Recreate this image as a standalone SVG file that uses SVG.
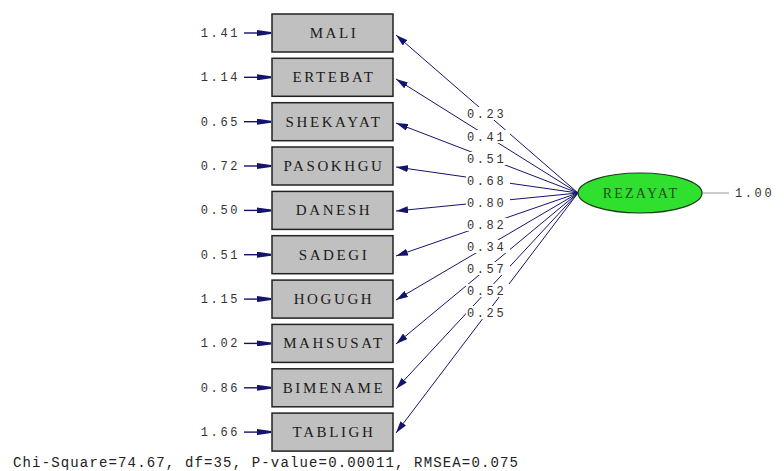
<svg xmlns="http://www.w3.org/2000/svg" width="784" height="471" viewBox="0 0 784 471">
<style>
.box rect{fill:#c0c0c0;stroke:#222;stroke-width:1.5}
.box text{font-family:"Liberation Serif",serif;font-size:15px;letter-spacing:2.6px;fill:#1a1a1a;text-anchor:middle}
.val{font-family:"Liberation Mono",monospace;font-size:12px;letter-spacing:2.6px;fill:#333}
.err{stroke:#14146e;stroke-width:1.4;fill:none}
.path{stroke:#14146e;stroke-width:1;fill:none}
.lab rect{fill:#fff}
</style>
<defs>
<marker id="ah" viewBox="0 0 12 7" refX="12" refY="3.5" markerWidth="12" markerHeight="7" markerUnits="userSpaceOnUse" orient="auto">
<path d="M0,0 L12,3.5 L0,7 z" fill="#14146e"/>
</marker>
<marker id="eh" viewBox="0 0 14 6" refX="14" refY="3" markerWidth="14" markerHeight="6" markerUnits="userSpaceOnUse" orient="auto">
<path d="M0,0 L14,2 L14,4 L0,6 z" fill="#14146e"/>
</marker>
</defs>
<rect width="784" height="471" fill="#fff"/>

<g id="connectors">
<line class="err" x1="244" y1="33" x2="271" y2="33" marker-end="url(#eh)"/>
<line class="err" x1="244" y1="77.3" x2="271" y2="77.3" marker-end="url(#eh)"/>
<line class="err" x1="244" y1="121.7" x2="271" y2="121.7" marker-end="url(#eh)"/>
<line class="err" x1="244" y1="166" x2="271" y2="166" marker-end="url(#eh)"/>
<line class="err" x1="244" y1="210.4" x2="271" y2="210.4" marker-end="url(#eh)"/>
<line class="err" x1="244" y1="254.7" x2="271" y2="254.7" marker-end="url(#eh)"/>
<line class="err" x1="244" y1="299.1" x2="271" y2="299.1" marker-end="url(#eh)"/>
<line class="err" x1="244" y1="343.4" x2="271" y2="343.4" marker-end="url(#eh)"/>
<line class="err" x1="244" y1="387.8" x2="271" y2="387.8" marker-end="url(#eh)"/>
<line class="err" x1="244" y1="432.1" x2="271" y2="432.1" marker-end="url(#eh)"/>

<line class="path" x1="578" y1="193" x2="396" y2="35" marker-end="url(#ah)"/>
<line class="path" x1="578" y1="193" x2="396" y2="79" marker-end="url(#ah)"/>
<line class="path" x1="578" y1="193" x2="396" y2="123" marker-end="url(#ah)"/>
<line class="path" x1="578" y1="193" x2="396" y2="167" marker-end="url(#ah)"/>
<line class="path" x1="578" y1="193" x2="396" y2="211" marker-end="url(#ah)"/>
<line class="path" x1="578" y1="193" x2="396" y2="256" marker-end="url(#ah)"/>
<line class="path" x1="578" y1="193" x2="396" y2="300" marker-end="url(#ah)"/>
<line class="path" x1="578" y1="193" x2="396" y2="344" marker-end="url(#ah)"/>
<line class="path" x1="578" y1="193" x2="396" y2="389" marker-end="url(#ah)"/>
<line class="path" x1="578" y1="193" x2="396" y2="433" marker-end="url(#ah)"/>

<line x1="702" y1="193" x2="729" y2="193" stroke="#999" stroke-width="1"/>

<g class="lab">
<rect x="466" y="107" width="44" height="13"/><text class="val" x="467" y="118">0.23</text>
<rect x="466" y="130" width="44" height="13"/><text class="val" x="467" y="141">0.41</text>
<rect x="466" y="152" width="44" height="13"/><text class="val" x="467" y="163">0.51</text>
<rect x="466" y="174" width="44" height="13"/><text class="val" x="467" y="185">0.68</text>
<rect x="466" y="196" width="44" height="13"/><text class="val" x="467" y="207">0.80</text>
<rect x="466" y="218" width="44" height="13"/><text class="val" x="467" y="229">0.82</text>
<rect x="466" y="240" width="44" height="13"/><text class="val" x="467" y="251">0.34</text>
<rect x="466" y="262" width="44" height="13"/><text class="val" x="467" y="273">0.57</text>
<rect x="466" y="284" width="44" height="13"/><text class="val" x="467" y="295">0.52</text>
<rect x="466" y="306" width="44" height="13"/><text class="val" x="467" y="317">0.25</text>
</g>
</g>

<g id="errors">
<text class="val" x="240" y="37" text-anchor="end">1.41</text>
<text class="val" x="240" y="81.3" text-anchor="end">1.14</text>
<text class="val" x="240" y="125.7" text-anchor="end">0.65</text>
<text class="val" x="240" y="170" text-anchor="end">0.72</text>
<text class="val" x="240" y="214.4" text-anchor="end">0.50</text>
<text class="val" x="240" y="258.7" text-anchor="end">0.51</text>
<text class="val" x="240" y="303.1" text-anchor="end">1.15</text>
<text class="val" x="240" y="347.4" text-anchor="end">1.02</text>
<text class="val" x="240" y="391.8" text-anchor="end">0.86</text>
<text class="val" x="240" y="436.1" text-anchor="end">1.66</text>
</g>

<g id="MALI" class="box"><rect x="272" y="14" width="121" height="38"/><text x="334" y="38">MALI</text></g>
<g id="ERTEBAT" class="box"><rect x="272" y="58.3" width="121" height="38"/><text x="334" y="82.3">ERTEBAT</text></g>
<g id="SHEKAYAT" class="box"><rect x="272" y="102.7" width="121" height="38"/><text x="334" y="126.7">SHEKAYAT</text></g>
<g id="PASOKHGU" class="box"><rect x="272" y="147" width="121" height="38"/><text x="334" y="171">PASOKHGU</text></g>
<g id="DANESH" class="box"><rect x="272" y="191.4" width="121" height="38"/><text x="334" y="215.4">DANESH</text></g>
<g id="SADEGI" class="box"><rect x="272" y="235.7" width="121" height="38"/><text x="334" y="259.7">SADEGI</text></g>
<g id="HOGUGH" class="box"><rect x="272" y="280.1" width="121" height="38"/><text x="334" y="304.1">HOGUGH</text></g>
<g id="MAHSUSAT" class="box"><rect x="272" y="324.4" width="121" height="38"/><text x="334" y="348.4">MAHSUSAT</text></g>
<g id="BIMENAME" class="box"><rect x="272" y="368.8" width="121" height="38"/><text x="334" y="392.8">BIMENAME</text></g>
<g id="TABLIGH" class="box"><rect x="272" y="413.1" width="121" height="38"/><text x="334" y="437.1">TABLIGH</text></g>

<g id="REZAYAT">
<ellipse cx="640" cy="193" rx="62" ry="20" fill="#2fe02f" stroke="#1a3a1a" stroke-width="1.2"/>
<text x="641" y="198" text-anchor="middle" font-family="Liberation Serif, serif" font-size="14" letter-spacing="2.2" fill="#1f4d1f">REZAYAT</text>
</g>
<text class="val" x="735" y="197">1.00</text>

<text x="13" y="467" font-family="Liberation Mono, monospace" font-size="14" letter-spacing="2" fill="#222" textLength="507">Chi-Square=74.67, df=35, P-value=0.00011, RMSEA=0.075</text>
</svg>
